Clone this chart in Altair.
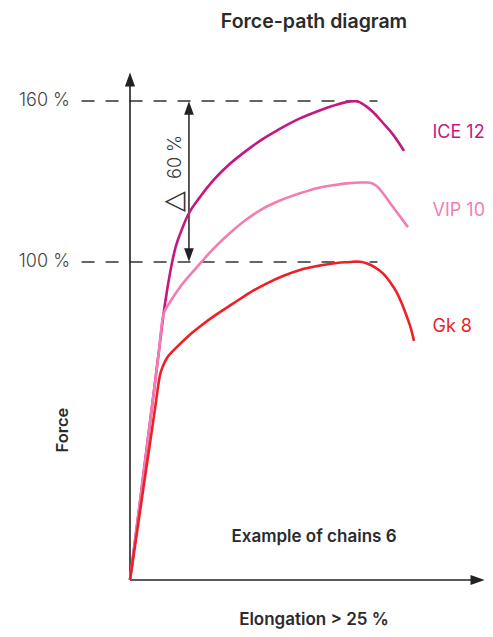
import altair as alt
import pandas as pd

# ---- data (elongation in %, force in % of the Gk 8 breaking force) ----
ice_e = [0, 0.64, 1.27, 1.82, 2.27, 2.64, 3.00, 3.36, 3.64, 3.91, 4.18, 4.55, 4.91, 5.27,
         6.36, 7.55, 9.09, 10.64, 12.09, 13.45, 15.45, 17.00, 18.45, 19.36, 20.00, 20.45,
         20.91, 21.45, 22.09, 23.00, 24.00, 24.91]
ice_f = [0, 17.3, 34.6, 49.7, 62.0, 72.3, 82.4, 90.9, 96.5, 101.5, 106.0, 110.4, 114.2, 117.5,
         124.2, 130.3, 136.6, 141.7, 145.9, 149.2, 153.5, 156.1, 158.2, 159.3, 159.8, 159.9,
         159.5, 158.1, 155.9, 151.8, 147.0, 141.4]

vip_e = [0, 0.64, 1.27, 1.82, 2.27, 2.64, 3.00, 3.64, 4.55, 6.09, 7.55, 9.09, 10.64, 12.09,
         13.64, 15.45, 17.00, 18.45, 20.00, 20.91, 21.64, 22.36, 22.91, 23.64, 24.45, 25.27]
vip_f = [0, 17.3, 34.6, 49.7, 62.0, 72.3, 83.0, 87.4, 92.1, 98.4, 104.8, 110.8, 116.0, 119.9,
         122.9, 125.6, 127.5, 128.6, 129.4, 129.6, 129.6, 128.5, 126.1, 122.0, 117.5, 113.0]

gk_e = [0, 0.64, 1.27, 1.82, 2.27, 2.73, 3.00, 3.36, 3.82, 4.27, 5.27, 6.36, 7.73, 9.36, 10.91,
        12.45, 13.91, 15.45, 17.00, 18.82, 20.00, 20.64, 21.09, 21.55, 22.27, 23.00, 23.64,
        24.27, 24.73, 25.18, 25.55, 25.82]
gk_f = [0, 15.1, 30.2, 43.1, 53.8, 64.5, 67.3, 69.8, 71.7, 73.3, 76.6, 79.7, 83.2, 86.9, 90.4,
        93.3, 95.6, 97.5, 98.7, 99.7, 100.0, 100.2, 100.0, 99.5, 98.3, 96.4, 93.7, 90.3, 86.8,
        82.7, 78.9, 75.2]

series_names = ["ICE 12", "VIP 10", "Gk 8"]
series_colors = ["#c4187f", "#f27db3", "#ee2027"]
label_f = [148.0, 119.0, 79.6]
label_e = 27.5

ref_levels = [100, 160]
ref_labels = ["100 %", "160 %"]

# diagram is not to scale: piecewise linear force axis
X_DOMAIN = [0, 33]
X_RANGE = [122, 485]
Y_DOMAIN = [0, 100, 160]
Y_RANGE = [572, 254, 93]

xs = alt.Scale(domain=X_DOMAIN, range=X_RANGE, nice=False, zero=False)
ys = alt.Scale(domain=Y_DOMAIN, range=Y_RANGE, nice=False, zero=False)

FONT = "Inter"

rows = []
for name, es, fs in [("ICE 12", ice_e, ice_f), ("VIP 10", vip_e, vip_f), ("Gk 8", gk_e, gk_f)]:
    for i, (e, f) in enumerate(zip(es, fs)):
        rows.append({"series": name, "e": e, "f": f, "o": i})
df = pd.DataFrame(rows)

color = alt.Color("series:N", scale=alt.Scale(domain=series_names, range=series_colors), legend=None)

lines = alt.Chart(df).mark_line(strokeWidth=2.6, interpolate="monotone").encode(
    x=alt.X("e:Q", scale=xs, axis=None),
    y=alt.Y("f:Q", scale=ys, axis=None),
    color=color,
    order="o:Q",
)

# axes with arrows
axes_df = pd.DataFrame([
    {"e": 0, "e2": 31.3, "f": 0, "f2": 0},
    {"e": 0, "e2": 0, "f": 0, "f2": 168.5},
])
axes = alt.Chart(axes_df).mark_rule(color="#222", strokeWidth=1.6).encode(
    x=alt.X("e:Q", scale=xs, axis=None), x2="e2:Q",
    y=alt.Y("f:Q", scale=ys, axis=None), y2="f2:Q",
)
arrow_path = "M-1,-0.72 L1,0 L-1,0.72 Z"
arrow_heads_df = pd.DataFrame([
    {"e": 31.6, "f": 0, "a": 0},
    {"e": 0, "f": 168.0, "a": 270},
])
arrow_heads = alt.Chart(arrow_heads_df).mark_point(
    shape=arrow_path, filled=True, color="#222", size=200, opacity=1
).encode(
    x=alt.X("e:Q", scale=xs, axis=None),
    y=alt.Y("f:Q", scale=ys, axis=None),
    angle=alt.Angle("a:Q", scale=None),
)

# dashed reference lines
ref_df = pd.DataFrame({"f": ref_levels, "lab": ref_labels, "e": [-4.4] * 2, "e2": [22.5] * 2})
refs = alt.Chart(ref_df).mark_rule(color="#333", strokeWidth=1.5, strokeDash=[13, 11]).encode(
    x=alt.X("e:Q", scale=xs, axis=None), x2="e2:Q",
    y=alt.Y("f:Q", scale=ys, axis=None),
)
ref_text = alt.Chart(ref_df).mark_text(
    align="right", baseline="middle", font=FONT, fontSize=18, fontWeight=300, color="#444"
).encode(
    x=alt.value(62),
    y=alt.Y("f:Q", scale=ys, axis=None),
    text="lab:N",
)

# delta arrow between the two reference lines
delta_df = pd.DataFrame([{"e": 5.36, "f": 101.5, "f2": 158.5}])
delta_line = alt.Chart(delta_df).mark_rule(color="#222", strokeWidth=1.5).encode(
    x=alt.X("e:Q", scale=xs, axis=None),
    y=alt.Y("f:Q", scale=ys, axis=None), y2="f2:Q",
)
delta_heads_df = pd.DataFrame([
    {"e": 5.36, "f": 157.4, "a": 270},
    {"e": 5.36, "f": 102.6, "a": 90},
])
delta_heads = alt.Chart(delta_heads_df).mark_point(
    shape=arrow_path, filled=True, color="#222", size=180, opacity=1
).encode(
    x=alt.X("e:Q", scale=xs, axis=None),
    y=alt.Y("f:Q", scale=ys, axis=None),
    angle=alt.Angle("a:Q", scale=None),
)
delta_num = alt.Chart(pd.DataFrame([{"t": "60 %"}])).mark_text(
    angle=270, align="center", baseline="middle", font=FONT, fontSize=18, fontWeight=300, color="#333"
).encode(x=alt.value(168), y=alt.value(149), text="t:N")
delta_sym = alt.Chart(pd.DataFrame([{"t": "△"}])).mark_text(
    angle=270, align="center", baseline="middle", font="DejaVu Sans", fontSize=27, fontWeight=300,
    color="#333"
).encode(x=alt.value(166), y=alt.value(193), text="t:N")

# series labels
lab_df = pd.DataFrame({"series": series_names, "f": label_f, "e": [label_e] * 3})
labels = alt.Chart(lab_df).mark_text(
    align="left", baseline="middle", font=FONT, fontSize=18, fontWeight=400
).encode(
    x=alt.X("e:Q", scale=xs, axis=None),
    y=alt.Y("f:Q", scale=ys, axis=None),
    text="series:N",
    color=color,
)

def txt(s, x, y, size=16, angle=0, baseline="middle", weight=600):
    return alt.Chart(pd.DataFrame([{"t": s}])).mark_text(
        angle=angle, align="center", baseline=baseline, font=FONT, fontSize=size,
        fontWeight=weight, color="#2b2b2b"
    ).encode(x=alt.value(x), y=alt.value(y), text="t:N")

title = txt("Force-path diagram", 306, 14, 19.5)
example = txt("Example of chains 6", 306, 529, 17)
xlabel = txt("Elongation > 25 %", 306, 617, 17, baseline="alphabetic")
ylabel = txt("Force", 55, 422, 16.5, 270)

chart = alt.layer(
    refs, ref_text, axes, arrow_heads, delta_line, delta_heads, delta_num, delta_sym,
    lines, labels, title, example, xlabel, ylabel
).properties(
    width=477, height=621, padding=0, autosize=alt.AutoSizeParams(type="none")
).configure_view(stroke=None)

chart.save("out.html", embed_options={"renderer": "svg", "actions": False})
